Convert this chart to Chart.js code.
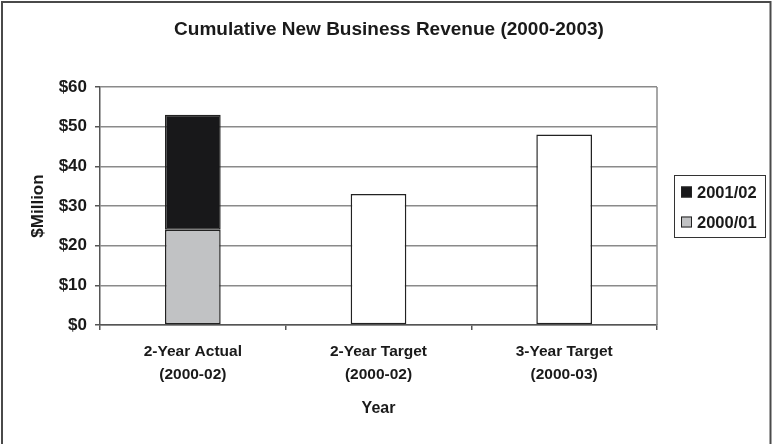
<!DOCTYPE html>
<html>
<head>
<meta charset="utf-8">
<script src="https://cdn.jsdelivr.net/npm/chart.js@4"></script>
<style>
  html, body { margin: 0; padding: 0; background: #fff; }
  #wrap { width: 773px; height: 444px; position: relative; }
</style>
</head>
<body>
<div id="wrap"><canvas id="revenueChart"></canvas></div>
<script>
const chartTitle = 'Cumulative New Business Revenue (2000-2003)';
const categories = [
  ['2-Year Actual', '(2000-02)'],
  ['2-Year Target', '(2000-02)'],
  ['3-Year Target', '(2000-03)'],
];
const rev2000_01 = [24, null, null];
const rev2001_02 = [29, null, null];
const targets = [null, 33, 48];
const yTicks = [0, 10, 20, 30, 40, 50, 60];

const FONT = "'Liberation Sans', Arial, sans-serif";
const INK = '#1a1a1a';

// title, frame around the whole chart, right edge of plot, and the boxed legend
const decorations = {
  id: 'decorations',
  afterDraw(chart) {
    const { ctx, chartArea } = chart;
    ctx.save();
    ctx.fillStyle = INK;
    ctx.font = 'bold 19px ' + FONT;
    ctx.textAlign = 'center';
    ctx.textBaseline = 'middle';
    ctx.fillText(chartTitle, 389, 30);

    ctx.strokeStyle = '#8a8a8a';
    ctx.lineWidth = 1.5;
    ctx.beginPath();
    ctx.moveTo(chartArea.right, chartArea.top);
    ctx.lineTo(chartArea.right, chartArea.bottom);
    ctx.stroke();

    ctx.strokeStyle = '#4a4a4a';
    ctx.lineWidth = 2;
    ctx.strokeRect(2, 2, 768.5, 460);

    // legend
    ctx.strokeStyle = '#333';
    ctx.lineWidth = 1;
    ctx.strokeRect(674.5, 175.5, 91, 62);
    const items = [chart.data.datasets[1], chart.data.datasets[0]];
    ctx.font = 'bold 16.5px ' + FONT;
    ctx.textAlign = 'left';
    items.forEach((ds, i) => {
      const cy = 192 + i * 30;
      ctx.fillStyle = ds.backgroundColor;
      ctx.fillRect(681, cy - 5.5, 11, 11);
      ctx.strokeStyle = '#222';
      ctx.strokeRect(681.5, cy - 5, 10, 10);
      ctx.fillStyle = INK;
      ctx.fillText(ds.label, 697, cy + 1);
    });
    ctx.restore();
  }
};

const barStyle = {
  borderColor: '#222',
  borderWidth: 1.5,
  borderSkipped: false,
  barPercentage: 0.3,
  categoryPercentage: 1,
};

new Chart(document.getElementById('revenueChart'), {
  type: 'bar',
  data: {
    labels: categories,
    datasets: [
      { label: '2000/01', data: rev2000_01, backgroundColor: '#c1c2c4', ...barStyle },
      { label: '2001/02', data: rev2001_02, backgroundColor: '#18181a', ...barStyle },
      { label: 'Target', data: targets, backgroundColor: '#ffffff', ...barStyle },
    ],
  },
  options: {
    responsive: true,
    maintainAspectRatio: false,
    animation: false,
    layout: { padding: { left: 0, right: 116, top: 87, bottom: 0 } },
    plugins: {
      legend: { display: false },
      tooltip: { enabled: false },
      title: { display: false },
    },
    scales: {
      x: {
        stacked: true,
        grid: {
          offset: true,
          drawOnChartArea: false,
          drawTicks: true,
          tickLength: 5,
          tickColor: '#555',
          lineWidth: 1.5,
        },
        border: { color: '#555', width: 1.5 },
        ticks: {
          color: INK,
          padding: 10.5,
          maxRotation: 0,
          font: { family: FONT, size: 15.5, weight: 'bold', lineHeight: 1.48 },
        },
        title: {
          display: true,
          text: 'Year',
          color: INK,
          font: { family: FONT, size: 16, weight: 'bold', lineHeight: 1.2 },
          padding: { top: 0, bottom: 25.4 },
        },
        afterFit(scale) { scale.height = 119; },
      },
      y: {
        stacked: true,
        min: 0,
        max: 60,
        afterBuildTicks(scale) { scale.ticks = yTicks.map(v => ({ value: v })); },
        grid: {
          color: '#8a8a8a',
          lineWidth: 1.5,
          tickLength: 5,
          tickColor: '#555',
        },
        border: { color: '#555', width: 1.5 },
        ticks: {
          color: INK,
          padding: 8,
          font: { family: FONT, size: 17, weight: 'bold' },
          callback: v => '$' + v,
        },
        title: {
          display: true,
          text: '$Million',
          color: INK,
          font: { family: FONT, size: 17, weight: 'bold', lineHeight: 1.2 },
          padding: { top: 28, bottom: 0 },
        },
        afterFit(scale) { scale.width = 100; },
      },
    },
  },
  plugins: [decorations],
});
</script>
</body>
</html>
